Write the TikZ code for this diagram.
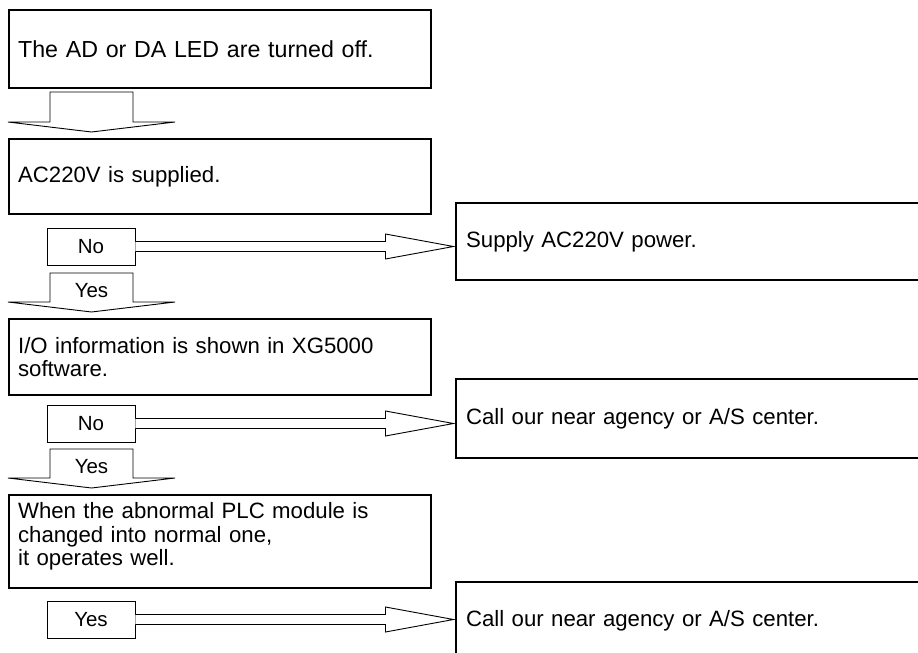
\documentclass[tikz,border=0pt]{standalone}
\usepackage{fontspec}
\setmainfont{Liberation Sans}
\usetikzlibrary{calc}
\newcommand\dnarrow[3]{\draw[thinline] (50,#1) -- (133,#1) -- (133,#2) -- (175,#2) -- (91.5,#3) -- (8,#2) -- (50,#2) -- cycle;}
\newcommand\rtarrow[2]{\draw[thinline] ($(#1.east)+(0,-5)$) -- ($(#1.east)+(250,-5)$) -- ($(#1.east)+(250,-12.5)$) -- ($(#2.west |- #1.east)+(-1.5,0)$) -- ($(#1.east)+(250,12.5)$) -- ($(#1.east)+(250,5)$) -- ($(#1.east)+(0,5)$);}
\begin{document}
\begin{tikzpicture}[x=1pt,y=-1pt,
  mainbox/.style={draw, line width=2.2pt, rectangle, anchor=north west, minimum width=422pt, text width=404pt, inner xsep=9pt, inner ysep=0pt, align=left, font=\fontsize{22.2}{23.5}\selectfont},
  sidebox/.style={draw, line width=2.2pt, rectangle, anchor=north west, minimum width=500pt, text width=480pt, inner xsep=10pt, inner ysep=0pt, align=left, font=\fontsize{22.2}{23.5}\selectfont},
  lbl/.style={draw, line width=0.9pt, rectangle, minimum width=88pt, minimum height=37pt, inner sep=0pt, fill=white, font=\fontsize{20.5}{21}\selectfont},
  lbltext/.style={inner sep=0pt, font=\fontsize{20.5}{21}\selectfont},
  thinline/.style={draw, line width=0.9pt, fill=white},
  ]
\clip (0,0) rectangle (918,653);
\fill[white] (0,0) rectangle (918,653);

% left boxes
\node[mainbox, minimum height=78pt, font=\fontsize{23.2}{24}\selectfont] (b1) at (8,9) {The AD or DA LED are turned off.};
\node[mainbox, minimum height=75pt] (b2) at (8,138) {AC220V is supplied.};
\node[mainbox, minimum height=76pt] (b3) at (8,318) {I/O information is shown in XG5000\\software.};
\node[mainbox, minimum height=93pt] (b4) at (8,494) {When the abnormal PLC module is\\changed into normal one,\\it operates well.\rule[-15pt]{0pt}{1pt}};

% right boxes
\node[sidebox, minimum height=77pt] (r1) at (455,202) {Supply AC220V power.};
\node[sidebox, minimum height=79pt] (r2) at (455,378) {Call our near agency or A/S center.};
\node[sidebox, minimum height=78pt] (r3) at (455,581) {Call our near agency or A/S center.};

% down arrows
\dnarrow{92}{122}{132}
\dnarrow{273}{302}{312}
\dnarrow{449}{478}{488}
\node[lbltext] (y1) at (91.5,290.5) {Yes};
\node[lbltext] (y2) at (91.5,466.5) {Yes};

% labelled right arrows
\node[lbl] (n1) at (91,246.5) {No};
\node[lbl] (n2) at (91,423.5) {No};
\node[lbl] (y3) at (91,619.5) {Yes};
\rtarrow{n1}{r1}
\rtarrow{n2}{r2}
\rtarrow{y3}{r3}
\end{tikzpicture}
\end{document}
